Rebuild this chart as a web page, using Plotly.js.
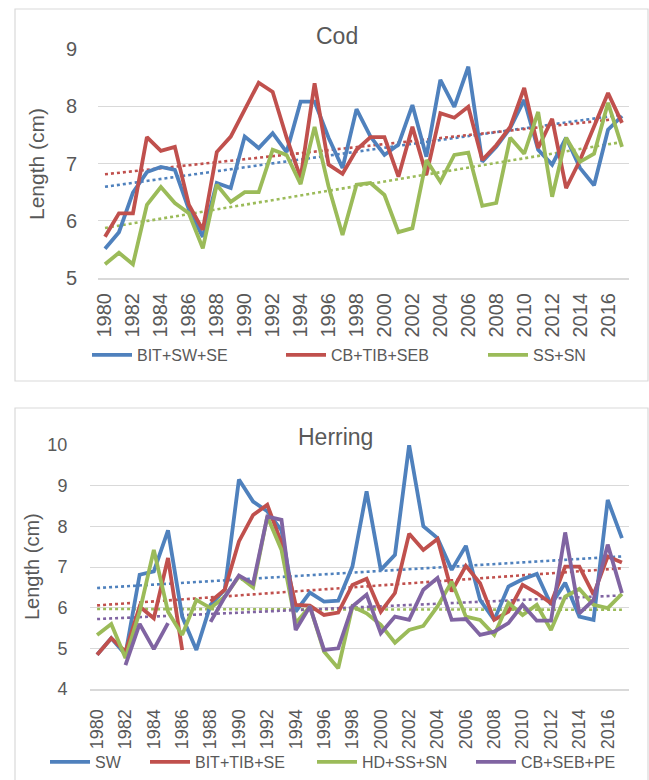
<!DOCTYPE html>
<html><head><meta charset="utf-8">
<script src="https://cdn.plot.ly/plotly-3.0.1.min.js"></script>
<style>html,body{margin:0;padding:0;background:#fff}#chart{width:649px;height:780px}</style>
</head><body><div id="chart"></div>
<script>
// ---------- data ----------
const years = [1980,1981,1982,1983,1984,1985,1986,1987,1988,1989,1990,1991,1992,1993,1994,1995,1996,1997,1998,1999,2000,2001,2002,2003,2004,2005,2006,2007,2008,2009,2010,2011,2012,2013,2014,2015,2016,2017];
const tickYears = [1980,1982,1984,1986,1988,1990,1992,1994,1996,1998,2000,2002,2004,2006,2008,2010,2012,2014,2016];
const tickLabels = ["1980","1982","1984","1986","1988","1990","1992","1994","1996","1998","2000","2002","2004","2006","2008","2010","2012","2014","2016"];

// Cod
const codNames = ["BIT+SW+SE","CB+TIB+SEB","SS+SN"];
const codBitSwSe = [5.51,5.80,6.49,6.85,6.94,6.89,6.20,5.72,6.66,6.57,7.47,7.27,7.53,7.20,8.08,8.08,7.45,6.92,7.95,7.47,7.15,7.33,8.02,7.12,8.46,7.99,8.69,7.03,7.29,7.62,8.11,7.24,6.98,7.45,6.92,6.62,7.59,7.83];
const codCbTibSeb = [5.72,6.13,6.13,7.46,7.22,7.29,6.28,5.84,7.20,7.47,7.94,8.41,8.25,7.45,6.75,8.40,6.98,6.82,7.24,7.46,7.46,6.77,7.64,6.80,7.88,7.80,7.99,7.06,7.32,7.64,8.32,7.27,7.78,6.57,7.06,7.64,8.23,7.71];
const codSsSn = [5.24,5.44,5.24,6.28,6.59,6.31,6.13,5.52,6.63,6.33,6.50,6.50,7.24,7.15,6.64,7.64,6.60,5.75,6.63,6.66,6.45,5.80,5.87,7.06,6.68,7.15,7.19,6.26,6.31,7.45,7.17,7.90,6.42,7.45,7.03,7.17,8.06,7.29];

// Herring (SW 1980-81 lie under the red line)
const herNames = ["SW","BIT+TIB+SE","HD+SS+SN","CB+SEB+PE"];
const herSw = [4.84,5.25,4.85,6.81,6.89,7.90,5.78,4.96,6.07,6.44,9.15,8.61,8.37,7.90,5.90,6.37,6.15,6.17,7.01,8.86,6.93,7.30,10.0,8.00,7.71,6.93,7.52,6.19,5.70,6.52,6.70,6.83,6.07,6.61,5.78,5.70,8.65,7.71];
const herBitTibSe = [4.84,5.25,4.92,6.03,5.74,7.22,4.96,null,6.15,6.44,7.63,8.28,8.53,7.59,6.07,6.05,5.82,5.88,6.56,6.71,5.90,6.36,7.82,7.42,7.69,6.40,7.03,6.60,5.70,5.90,6.56,6.36,6.11,7.01,7.01,6.32,7.26,7.11];
const herHdSsSn = [5.33,5.60,4.76,5.90,7.42,5.90,5.33,6.19,5.99,6.27,6.77,6.50,8.24,7.42,5.62,6.03,4.92,4.51,6.03,5.86,5.58,5.14,5.45,5.55,6.03,6.64,5.78,5.70,5.33,6.12,5.82,6.07,5.45,6.27,6.46,6.07,5.99,6.34];
const herCbSebPe = [null,null,4.59,5.60,4.98,5.62,null,null,5.65,6.26,6.79,6.59,8.24,8.16,5.45,6.03,4.96,5.00,6.03,6.32,5.37,5.78,5.70,6.44,6.73,5.70,5.72,5.33,5.41,5.62,6.07,5.68,5.68,7.85,5.86,6.19,7.55,6.36];

const colors = ["#4F81BD","#C0504D","#9BBB59","#8064A2"];

// ---------- helpers ----------
function linearTrend(xs, ys){
  let n=0,sx=0,sy=0,sxx=0,sxy=0;
  xs.forEach((x,i)=>{const y=ys[i]; if(y===null||y===undefined) return; n++; sx+=x; sy+=y; sxx+=x*x; sxy+=x*y;});
  const b=(n*sxy-sx*sy)/(n*sxx-sx*sx); const a=(sy-b*sx)/n;
  return xs.map(x=>a+b*x);
}
const W=649,H=780;
const px=v=>v/W, py=v=>1-v/H;
const FONT="Liberation Sans, Arial, sans-serif";
const TXT="#595959";

const traces=[];
function addTrend(vals,color,xa,ya){
  traces.push({x:years,y:linearTrend(years,vals),type:'scatter',mode:'lines',xaxis:xa,yaxis:ya,
    line:{color:color,width:2.6,dash:'dot'},showlegend:false,hoverinfo:'skip'});
}
function addLine(vals,name,color,xa,ya,legendId){
  traces.push({x:years,y:vals,type:'scatter',mode:'lines',name:name,xaxis:xa,yaxis:ya,
    line:{color:color,width:3.8},connectgaps:false,legend:legendId});
}
const codSeries=[codBitSwSe,codCbTibSeb,codSsSn];
const herSeries=[herSw,herBitTibSe,herHdSsSn,herCbSebPe];
codSeries.forEach((s,i)=>addTrend(s,colors[i],'x','y'));
herSeries.forEach((s,i)=>addTrend(s,colors[i],'x2','y2'));
const legIds=['legend','legend2','legend3','legend4','legend5','legend6','legend7'];
codSeries.forEach((s,i)=>addLine(s,codNames[i],colors[i],'x','y',legIds[i]));
herSeries.forEach((s,i)=>addLine(s,herNames[i],colors[i],'x2','y2',legIds[3+i]));

function legendAt(xpx,ypx,size){
  return {x:px(xpx),y:py(ypx),xanchor:'left',yanchor:'middle',orientation:'h',
    bgcolor:'rgba(0,0,0,0)',borderwidth:0,itemwidth:40,
    font:{family:FONT,size:size,color:TXT}};
}
const xBase={range:[1979.5,2017.5],tickmode:'array',tickvals:tickYears,ticktext:tickLabels,tickangle:-90,
  showgrid:false,zeroline:false,showline:true,linecolor:'#D9D9D9',linewidth:2,
  ticks:'outside',tickcolor:'rgba(0,0,0,0)',fixedrange:true};
const yBase={showgrid:true,gridcolor:'#D9D9D9',gridwidth:1,zeroline:false,showline:false,dtick:1,
  ticks:'outside',tickcolor:'rgba(0,0,0,0)',fixedrange:true};

const layout={
  width:W,height:H,margin:{l:0,r:0,t:0,b:0},paper_bgcolor:'#fff',plot_bgcolor:'#fff',
  font:{family:FONT,color:TXT},
  xaxis:Object.assign({},xBase,{domain:[px(98),px(629)],anchor:'y',ticklen:5,tickfont:{family:FONT,size:20,color:TXT}}),
  yaxis:Object.assign({},yBase,{domain:[py(278),py(49)],anchor:'x',range:[5,9],ticklen:16,tickfont:{family:FONT,size:20,color:TXT}}),
  xaxis2:Object.assign({},xBase,{domain:[px(90),px(629)],anchor:'y2',ticklen:11,tickfont:{family:FONT,size:18,color:TXT}}),
  yaxis2:Object.assign({},yBase,{domain:[py(689),py(445)],anchor:'x2',range:[4,10],ticklen:18,tickfont:{family:FONT,size:18,color:TXT}}),
  legend:legendAt(87,355,16),
  legend2:legendAt(281,355,16),
  legend3:legendAt(483,355,16),
  legend4:legendAt(45,762,16),
  legend5:legendAt(145,762,16),
  legend6:legendAt(312,762,16),
  legend7:legendAt(471,762,16),
  shapes:[
    {type:'rect',xref:'paper',yref:'paper',x0:px(15),x1:px(648),y0:py(381),y1:py(9),line:{color:'#D9D9D9',width:1.2},fillcolor:'rgba(0,0,0,0)'},
    {type:'rect',xref:'paper',yref:'paper',x0:px(15),x1:px(648),y0:py(790),y1:py(408),line:{color:'#D9D9D9',width:1.2},fillcolor:'rgba(0,0,0,0)'}
  ],
  annotations:[
    {text:'Cod',xref:'paper',yref:'paper',x:px(337),y:py(36),xanchor:'center',yanchor:'middle',showarrow:false,font:{family:FONT,size:23,color:TXT}},
    {text:'Herring',xref:'paper',yref:'paper',x:px(335),y:py(437),xanchor:'center',yanchor:'middle',showarrow:false,font:{family:FONT,size:23,color:TXT}},
    {text:'Length (cm)',xref:'paper',yref:'paper',x:px(36),y:py(164),xanchor:'center',yanchor:'middle',textangle:-90,showarrow:false,font:{family:FONT,size:21,color:TXT}},
    {text:'Length (cm)',xref:'paper',yref:'paper',x:px(32),y:py(567),xanchor:'center',yanchor:'middle',textangle:-90,showarrow:false,font:{family:FONT,size:20,color:TXT}}
  ]
};
Plotly.newPlot('chart',traces,layout,{displayModeBar:false,staticPlot:true});
</script></body></html>
